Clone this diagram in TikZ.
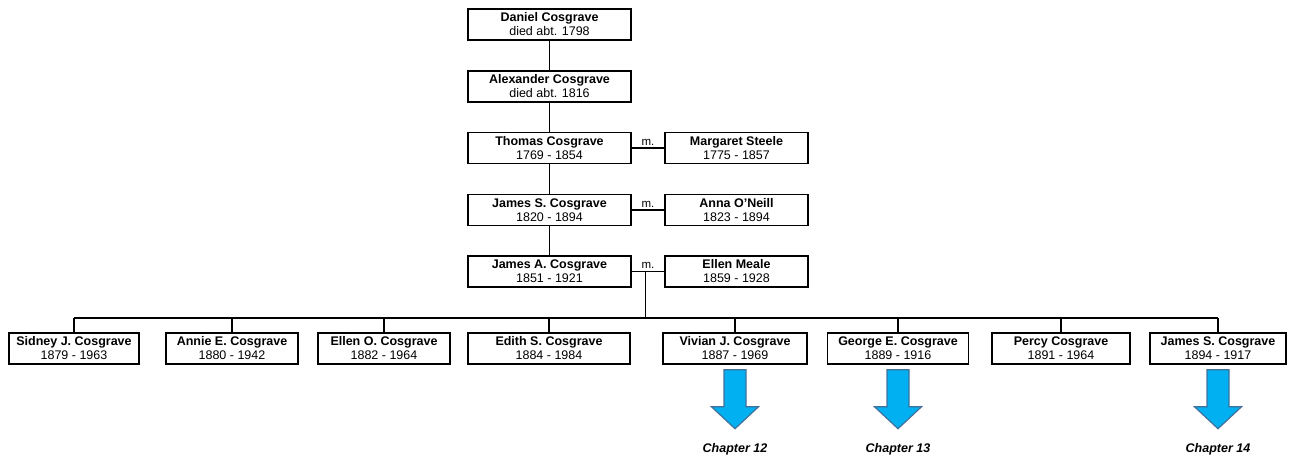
\documentclass[tikz,border=0pt]{standalone}
\usepackage{fontspec}
\setmainfont{Liberation Sans}
\usepackage{tikz}
\usetikzlibrary{calc,positioning}

\definecolor{arrowfill}{HTML}{00B0F0}
\definecolor{arrowline}{HTML}{41719C}

\tikzset{
  person/.style={draw, line width=1.5pt, minimum height=31pt, inner sep=1pt,
    align=center, font=\fontsize{12.5}{14}\selectfont},
  link/.style={line width=1.4pt},
  wedlabel/.style={font=\fontsize{11.5}{13}\selectfont, inner sep=2pt},
  chaparrow/.style={fill=arrowfill, draw=arrowline, line width=1.2pt, line join=miter},
  chaplabel/.style={font=\fontsize{12.5}{14}\selectfont\bfseries\itshape}
}

\begin{document}
\begin{tikzpicture}[x=1pt,y=-1pt]
\useasboundingbox (0,0) rectangle (1294,466);
% Ancestors
\node[person, minimum width=163pt] (daniel) at (549.5,24.5) {\textbf{Daniel Cosgrave}\\died abt. 1798};
\node[person, minimum width=163pt] (alexander) at (549.5,86.5) {\textbf{Alexander Cosgrave}\\died abt. 1816};
\node[person, minimum width=163pt] (thomas) at (549.5,148) {\textbf{Thomas Cosgrave}\\1769 - 1854};
\node[person, minimum width=143pt] (margaret) at (736.5,148) {\textbf{Margaret Steele}\\1775 - 1857};
\node[person, minimum width=163pt] (jamesS) at (549.5,210) {\textbf{James S. Cosgrave}\\1820 - 1894};
\node[person, minimum width=143pt] (anna) at (736.5,210) {\textbf{Anna O{\char"27}Neill}\\1823 - 1894};
\node[person, minimum width=163pt] (jamesA) at (549.5,271.5) {\textbf{James A. Cosgrave}\\1851 - 1921};
\node[person, minimum width=143pt] (ellen) at (736.5,271.5) {\textbf{Ellen Meale}\\1859 - 1928};

% Children
\node[person, minimum width=130pt] (sidney) at (74,348.5) {\textbf{Sidney J. Cosgrave}\\1879 - 1963};
\node[person, minimum width=132pt] (annie) at (232,348.5) {\textbf{Annie E. Cosgrave}\\1880 - 1942};
\node[person, minimum width=132pt] (ellenO) at (384,348.5) {\textbf{Ellen O. Cosgrave}\\1882 - 1964};
\node[person, minimum width=162pt] (edith) at (549,348.5) {\textbf{Edith S. Cosgrave}\\1884 - 1984};
\node[person, minimum width=144pt] (vivian) at (735,348.5) {\textbf{Vivian J. Cosgrave}\\1887 - 1969};
\node[person, minimum width=141pt] (george) at (898,348.5) {\textbf{George E. Cosgrave}\\1889 - 1916};
\node[person, minimum width=138pt] (percy) at (1061,348.5) {\textbf{Percy Cosgrave}\\1891 - 1964};
\node[person, minimum width=136pt] (jamesB) at (1218,348.5) {\textbf{James S. Cosgrave}\\1894 - 1917};

% Descent lines
\draw[link] (daniel) -- (alexander);
\draw[link] (alexander) -- (thomas);
\draw[link] (thomas) -- (jamesS);
\draw[link] (jamesS) -- (jamesA);

% Marriages
\draw[link] (thomas) -- node[wedlabel, above] (wedA) {m.} (margaret);
\draw[link] (jamesS) -- node[wedlabel, above] (wedB) {m.} (anna);
\draw[link] (jamesA) -- node[wedlabel, above] (wedC) {m.} coordinate[pos=0.42] (wed) (ellen);

% Bus to the children
\coordinate (busy) at (0,318);
\draw[link] (wed) -- (wed |- busy);
\draw[link] (sidney.north |- busy) -- (jamesB.north |- busy);
\foreach \c in {sidney,annie,ellenO,edith,vivian,george,percy,jamesB}
  \draw[link] (\c.north) -- (\c.north |- busy);

% Chapter arrows
\foreach \n/\ch in {vivian/12,george/13,jamesB/14}
{
  \draw[chaparrow] ([xshift=-11pt,yshift=-5pt]\n.south) -- ++(22,0) -- ++(0,37)
    -- ++(12.5,0) -- ++(-23.5,22) -- ++(-23.5,-22) -- ++(12.5,0) -- cycle;
  \node[chaplabel] (chap\ch) at ([yshift=-85pt]\n.south) {Chapter \ch};
}
\end{tikzpicture}
\end{document}
